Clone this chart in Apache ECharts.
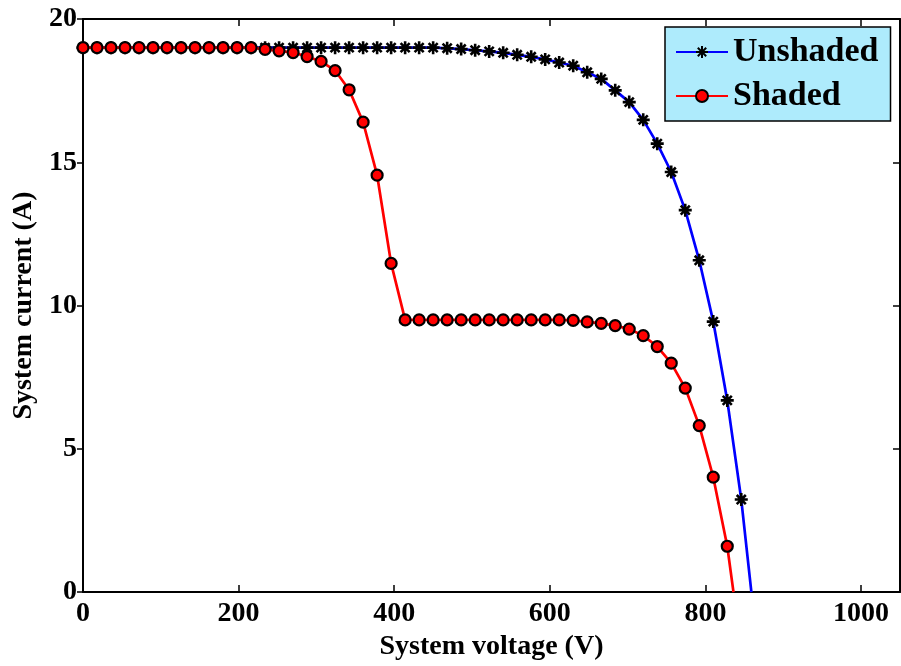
<!DOCTYPE html>
<html>
<head>
<meta charset="utf-8">
<title>I-V curve</title>
<script src="https://cdn.jsdelivr.net/npm/echarts@6/dist/echarts.min.js"></script>
<style>
  html, body { margin: 0; padding: 0; background: #fff; }
  #chart { width: 901px; height: 666px; }
</style>
</head>
<body>
<div id="chart"></div>
<script>
// ------------------------------------------------------------
// data (V in volts, I in amps)
// ------------------------------------------------------------
const voltage = [
  0, 18, 36, 54, 72, 90, 108, 126, 144, 162, 180, 198, 216, 234, 252, 270,
  288, 306, 324, 342, 360, 378, 396, 414, 432, 450, 468, 486, 504, 522, 540,
  558, 576, 594, 612, 630, 648, 666, 684, 702, 720, 738, 756, 774, 792, 810,
  828, 846,
];

const unshadedCurrent = [
  19.0, 19.0, 19.0, 19.0, 19.0, 19.0, 19.0, 19.0, 19.0, 19.0, 19.0, 19.0,
  19.0, 19.0, 19.0, 19.0, 19.0, 19.0, 19.0, 19.0, 19.0, 19.0, 19.0, 19.0,
  19.0, 19.0, 18.98, 18.95, 18.91, 18.87, 18.82, 18.75, 18.68, 18.59, 18.48,
  18.37, 18.14, 17.91, 17.51, 17.1, 16.48, 15.65, 14.66, 13.33, 11.58, 9.44,
  6.69, 3.23,
];
const unshadedVoc = 859;

const shadedCurrent = [
  19.0, 19.0, 19.0, 19.0, 19.0, 19.0, 19.0, 19.0, 19.0, 19.0, 19.0, 19.0,
  19.0, 18.94, 18.89, 18.83, 18.69, 18.52, 18.2, 17.53, 16.4, 14.55, 11.47,
  9.5, 9.5, 9.5, 9.5, 9.5, 9.5, 9.5, 9.5, 9.5, 9.5, 9.5, 9.5, 9.48, 9.43,
  9.38, 9.3, 9.18, 8.95, 8.57, 7.99, 7.12, 5.81, 4.01, 1.6,
];
const shadedVoc = 836;

const seriesNames = ["Unshaded", "Shaded"];
const xTicks = { min: 0, max: 1050, interval: 200 };
const yTicks = { min: 0, max: 20, interval: 5 };

// ------------------------------------------------------------
// helpers
// ------------------------------------------------------------
const FONT = "'Liberation Serif', 'Times New Roman', serif";

function buildCurve(currents, voc) {
  const pts = currents.map((c, i) => [voltage[i], c]);
  // open-circuit point: line only, no marker
  pts.push({ value: [voc, 0], symbol: "none" });
  return pts;
}

// MATLAB style '*' marker (stroked)
const ASTERISK =
  "path://M0,-10L0,10M-10,0L10,0M-7,-7L7,7M-7,7L7,-7";

const frameAxis = {
  axisLine: { show: true, onZero: false, lineStyle: { color: "#000", width: 2 } },
  splitLine: { show: false },
};

const chart = echarts.init(document.getElementById("chart"));

chart.setOption({
  animation: false,
  backgroundColor: "#fff",
  grid: { left: 83, right: 1, top: 19, bottom: 73, containLabel: false },
  legend: {
    orient: "vertical",
    left: 665,
    top: 27,
    data: seriesNames,
    backgroundColor: "#AEEBFC",
    borderColor: "#000",
    borderWidth: 1.5,
    borderRadius: 0,
    padding: [8, 12, 8, 10],
    itemGap: 10,
    itemWidth: 52,
    itemHeight: 15,
    textStyle: { fontFamily: FONT, fontWeight: "bold", fontSize: 34, color: "#000" },
  },
  xAxis: [
    {
      type: "value",
      position: "bottom",
      min: xTicks.min,
      max: xTicks.max,
      interval: xTicks.interval,
      name: "System voltage (V)",
      nameLocation: "middle",
      nameGap: 38,
      nameTextStyle: { fontFamily: FONT, fontWeight: "bold", fontSize: 28, color: "#000" },
      axisTick: { show: true, inside: true, length: 7, lineStyle: { color: "#000", width: 1.5 } },
      axisLabel: {
        fontFamily: FONT, fontWeight: "bold", fontSize: 28, color: "#000",
        margin: 8, showMaxLabel: false,
        formatter: (v) => String(v),
      },
      ...frameAxis,
    },
    {
      type: "value",
      position: "top",
      min: xTicks.min,
      max: xTicks.max,
      interval: xTicks.interval,
      axisTick: { show: true, inside: true, length: 7, lineStyle: { color: "#000", width: 1.5 } },
      axisLabel: { show: false },
      ...frameAxis,
    },
  ],
  yAxis: [
    {
      type: "value",
      position: "left",
      min: yTicks.min,
      max: yTicks.max,
      interval: yTicks.interval,
      name: "System current (A)",
      nameLocation: "middle",
      nameGap: 42,
      nameTextStyle: { fontFamily: FONT, fontWeight: "bold", fontSize: 28, color: "#000" },
      axisTick: { show: true, inside: false, length: 6, lineStyle: { color: "#000", width: 1.5 } },
      axisLabel: { fontFamily: FONT, fontWeight: "bold", fontSize: 28, color: "#000", margin: 6 },
      ...frameAxis,
    },
    {
      type: "value",
      position: "right",
      min: yTicks.min,
      max: yTicks.max,
      interval: yTicks.interval,
      axisTick: { show: true, inside: true, length: 7, lineStyle: { color: "#000", width: 1.5 } },
      axisLabel: { show: false },
      ...frameAxis,
    },
  ],
  series: [
    {
      name: seriesNames[0],
      type: "line",
      data: buildCurve(unshadedCurrent, unshadedVoc),
      symbol: ASTERISK,
      symbolSize: 13,
      showAllSymbol: true,
      lineStyle: { color: "#0000FF", width: 2.7 },
      itemStyle: { color: "rgba(0,0,0,0)", borderColor: "#000", borderWidth: 2.6 },
      emphasis: { disabled: true },
      z: 2,
    },
    {
      name: seriesNames[1],
      type: "line",
      data: buildCurve(shadedCurrent, shadedVoc),
      symbol: "circle",
      symbolSize: 11,
      showAllSymbol: true,
      lineStyle: { color: "#FF0000", width: 2.7 },
      itemStyle: { color: "#FF0000", borderColor: "#000", borderWidth: 2.2 },
      emphasis: { disabled: true },
      z: 3,
    },
  ],
});
</script>
</body>
</html>
